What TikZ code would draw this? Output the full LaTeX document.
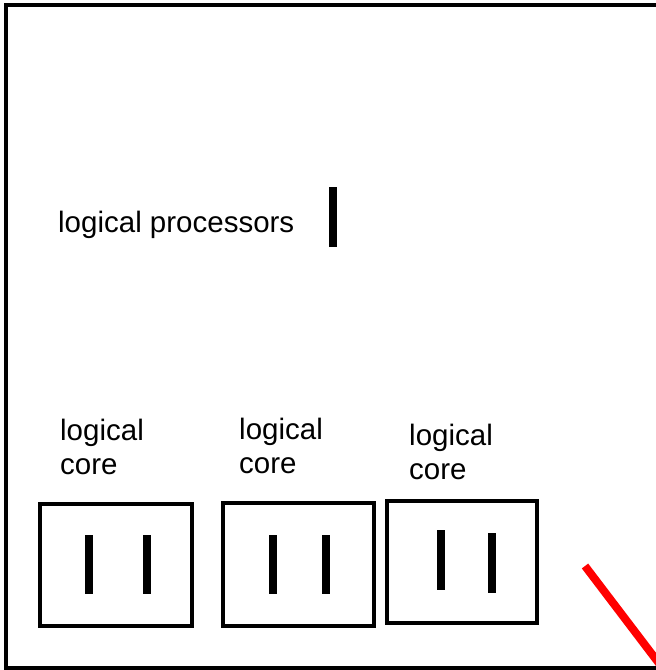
\documentclass[tikz,border=0pt]{standalone}
\usepackage{fontspec}
\setmainfont{Liberation Sans}

\begin{document}
\begin{tikzpicture}[x=1pt, y=-1pt,
    block/.style={draw=black, line width=3.6pt},
    bar/.style={draw=black, line width=8.5pt},
    caption/.style={inner sep=0pt, align=left, font=\fontsize{29.5}{34}\selectfont}]
  \clip (0,0) rectangle (656,670);
  \fill[white] (0,0) rectangle (656,670);

  % red stroke in the corner
  \draw[red, line width=8pt] (585,566) -- (680,691);

  % outer frame
  \draw[line width=4pt] (5.5,5) rectangle (660,667.5);

  % processors
  \node[caption, anchor=base west] (lp) at (58,232) {logical processors};
  \draw[bar] (333,187) -- (333,247);

  % cores
  \foreach \n/\xa/\ya/\xb/\yb in {1/40/504/192/626, 2/223/503/374/626, 3/387/501/537/623} {
    \draw[block] (\xa,\ya) rectangle (\xb,\yb);
  }
  \foreach \x/\ya/\yb in {89/535/594, 147/535/594, 273/535/594, 326/535/594, 441/530/590, 492/533/593} {
    \draw[bar] (\x,\ya) -- (\x,\yb);
  }

  % labels
  \foreach \n/\x/\y in {1/60/419, 2/239/418, 3/409/424} {
    \node[caption, anchor=north west] (core\n) at (\x,\y) {logical\\core};
  }
\end{tikzpicture}
\end{document}
